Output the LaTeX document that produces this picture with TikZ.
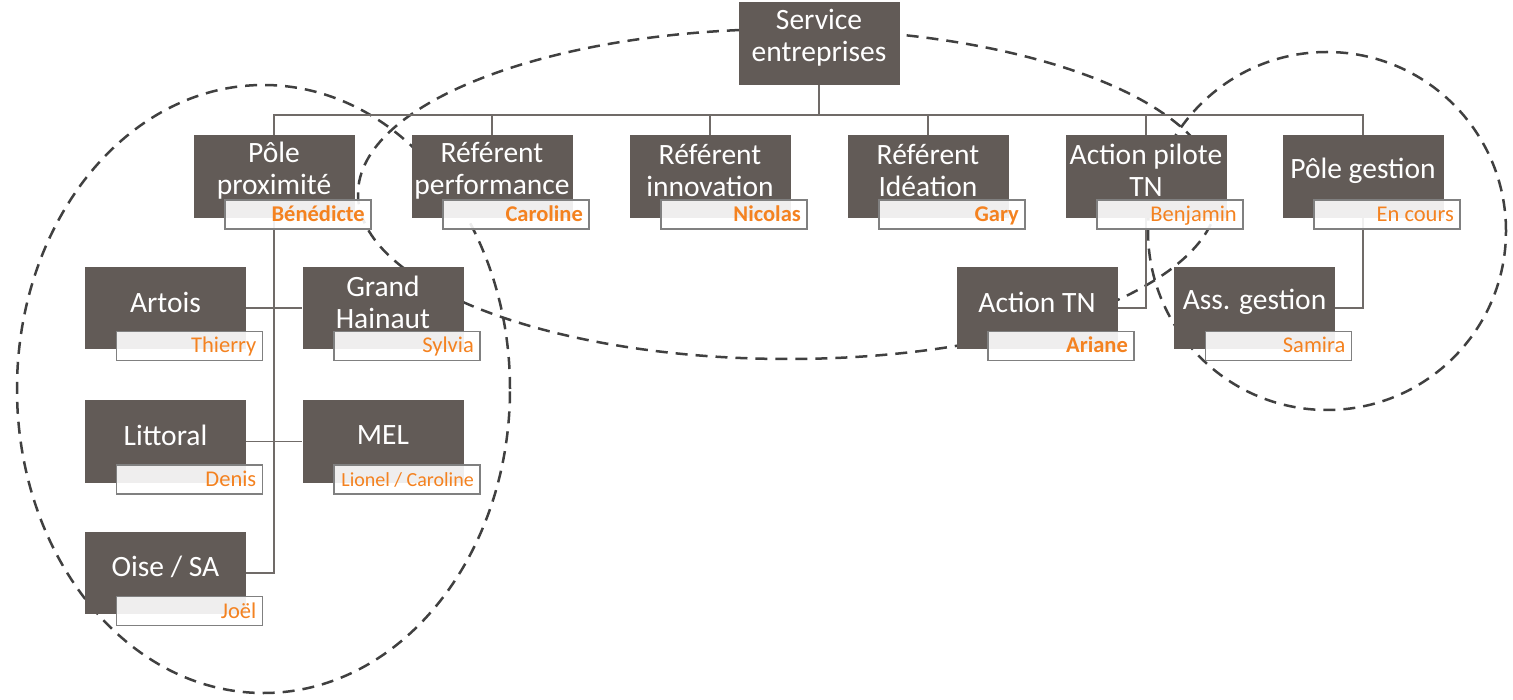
\documentclass[tikz,border=0pt]{standalone}
\usepackage{fontspec}
\setmainfont{Carlito}
\usetikzlibrary{calc}
\definecolor{boxc}{RGB}{98,91,87}
\definecolor{orc}{RGB}{244,130,32}
\definecolor{dashc}{RGB}{64,64,64}
\definecolor{connc}{RGB}{112,107,104}
\definecolor{lborder}{RGB}{128,128,128}
\pgfdeclarelayer{bg}
\pgfsetlayers{bg,main}
\newcommand\orgnode[6]{%
  \node[dbox] (#1) at (#2,#3) {};
  \node[btxt] (#1-t) at (#2,#3-6) {#4};
  \node[lbox] (#1-l) at (#2+24,#3+38) {};
  \node[#5, anchor=base east] (#1-n) at (#2+91,#3+45) {#6};
}
\begin{document}
\begin{tikzpicture}[x=1pt,y=-1pt,
  dbox/.style={fill=boxc, minimum width=161pt, minimum height=82.5pt, inner sep=0pt},
  btxt/.style={text=white, font=\fontsize{29.5}{32}\selectfont, align=center, inner sep=0pt},
  lbox/.style={draw=lborder, line width=1.5pt, fill=white, fill opacity=0.9, minimum width=146pt, minimum height=29pt, inner sep=0pt},
  ltxt/.style={text=orc, font=\fontsize{22.5}{26}\selectfont, inner sep=0pt},
  lbf/.style={text=orc, font=\fontsize{22.5}{26}\selectfont\bfseries, inner sep=0pt},
  lsm/.style={text=orc, font=\fontsize{20}{24}\selectfont, inner sep=0pt},
  conn/.style={draw=connc, line width=1.6pt},
  dsh/.style={draw=dashc, line width=2.5pt, dash pattern=on 12pt off 8pt}]
\useasboundingbox (0,0) rectangle (1513,700);

% top
\node[dbox] (svc) at (819,43.5) {};
\node[btxt] (svc-t) at (819,37.5) {Service\\entreprises};

% level 1
\orgnode{pp}{274}{176.5}{Pôle\\proximité}{lbf}{Bénédicte}
\orgnode{rp}{492}{176.5}{Référent\\performance}{lbf}{Caroline}
\orgnode{ri}{710}{176.5}{Référent\\innovation}{lbf}{Nicolas}
\orgnode{rid}{928}{176.5}{Référent\\Idéation}{lbf}{Gary}
\orgnode{apt}{1146}{176.5}{Action pilote\\TN}{ltxt}{Benjamin}
\orgnode{pg}{1363}{176.5}{Pôle gestion}{ltxt}{En cours}

% level 2 left
\orgnode{art}{165.5}{308}{Artois}{ltxt}{Thierry}
\orgnode{gh}{383}{308}{Grand\\Hainaut}{ltxt}{Sylvia}
\orgnode{lit}{165.5}{441.5}{Littoral}{ltxt}{Denis}
\orgnode{mel}{383}{441.5}{MEL}{lsm}{Lionel / Caroline}
\orgnode{oise}{165.5}{573}{Oise / SA}{ltxt}{Joël}

% level 2 right
\orgnode{atn}{1037}{308}{Action TN}{lbf}{Ariane}
\orgnode{ag}{1254.5}{308}{Ass. gestion}{ltxt}{Samira}

\begin{pgfonlayer}{bg}
  \draw[dsh] (263.5,389) ellipse [x radius=246.5pt, y radius=304pt];
  \draw[dsh] (788,194) ellipse [x radius=430pt, y radius=165pt];
  \draw[dsh] (1327,231) circle [radius=179pt];

  \coordinate (bus) at (819,115);
  \draw[conn] (svc.south) -- (bus);
  \foreach \n in {pp,rp,ri,rid,apt,pg} \draw[conn] (bus) -| (\n.north);
  \draw[conn] (pp.south) |- (oise.east);
  \draw[conn] (art.east) -- (gh.west);
  \draw[conn] (lit.east) -- (mel.west);
  \draw[conn] (apt.south) |- (atn.east);
  \draw[conn] (pg.south) |- (ag.east);
\end{pgfonlayer}
\end{tikzpicture}
\end{document}
